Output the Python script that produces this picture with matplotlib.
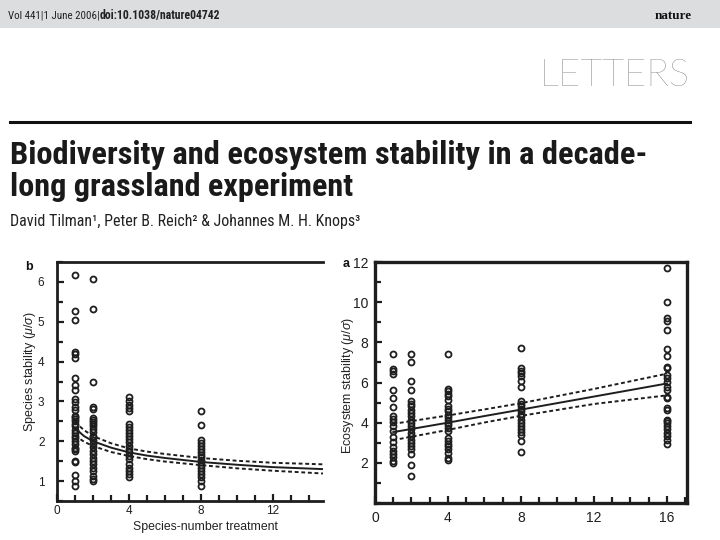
import matplotlib
matplotlib.use('Agg')
import matplotlib.pyplot as plt
from matplotlib import font_manager
from matplotlib.ticker import MultipleLocator
from matplotlib.patches import Rectangle
from matplotlib.lines import Line2D

# ---------------- data ----------------
# panel b: species stability vs species-number treatment
b_treatments = [1, 2, 4, 8]
b_vals_1 = [6.17, 5.27, 5.04, 4.25, 4.18, 4.10, 3.58, 3.41, 3.29, 3.05, 2.98, 2.85,
            2.79, 2.64, 2.60, 2.56, 2.52, 2.43, 2.39, 2.27, 2.20, 2.13, 2.08, 2.01,
            1.94, 1.84, 1.80, 1.76, 1.51, 1.47, 1.16, 1.00, 0.88]
b_vals_2 = [6.07, 5.31, 3.48, 2.85, 2.81, 2.59, 2.54, 2.48, 2.44, 2.39, 2.31, 2.23,
            2.14, 2.10, 2.02, 1.93, 1.85, 1.76, 1.68, 1.59, 1.51, 1.43, 1.34, 1.26,
            1.13, 1.05, 1.01]
b_vals_4 = [3.10, 3.02, 2.92, 2.83, 2.77, 2.44, 2.35, 2.27, 2.20, 2.14, 2.06, 1.98,
            1.89, 1.81, 1.72, 1.64, 1.56, 1.43, 1.34, 1.26, 1.18, 1.11]
b_vals_8 = [2.77, 2.42, 2.03, 1.95, 1.87, 1.81, 1.72, 1.66, 1.60, 1.53, 1.47, 1.41,
            1.34, 1.26, 1.18, 1.09, 1.01, 0.88]
b_fit_x = [1, 1.5, 2, 3, 4, 5, 6, 8, 10, 12, 14.8]
b_fit_mid = [2.33, 2.13, 2.00, 1.84, 1.72, 1.64, 1.58, 1.48, 1.41, 1.35, 1.30]
b_fit_upper = [2.48, 2.28, 2.13, 1.95, 1.82, 1.74, 1.68, 1.58, 1.51, 1.46, 1.42]
b_fit_lower = [2.14, 1.99, 1.88, 1.73, 1.63, 1.55, 1.49, 1.40, 1.32, 1.26, 1.19]

# panel a: ecosystem stability vs species-number treatment
a_treatments = [1, 2, 4, 8, 16]
a_vals_1 = [7.43, 6.68, 6.57, 6.43, 5.63, 5.23, 4.77, 4.35, 4.18, 4.02, 3.85, 3.60,
            3.27, 3.02, 2.77, 2.60, 2.43, 2.27, 2.10, 2.00]
a_vals_2 = [7.41, 7.01, 6.09, 5.61, 5.06, 4.94, 4.81, 4.65, 4.48, 4.35, 4.15, 3.99,
            3.82, 3.66, 3.49, 3.33, 3.16, 3.00, 2.83, 2.67, 2.42, 1.87, 1.34]
a_vals_4 = [7.41, 5.67, 5.56, 5.44, 5.31, 5.15, 4.82, 4.68, 4.57, 4.40, 4.29, 4.15,
            3.99, 3.86, 3.74, 3.58, 3.25, 3.08, 2.95, 2.83, 2.67, 2.50, 2.25, 2.14]
a_vals_8 = [7.74, 6.71, 6.59, 6.46, 6.30, 6.05, 5.77, 5.06, 4.94, 4.81, 4.68, 4.57,
            4.45, 4.32, 4.15, 3.99, 3.82, 3.66, 3.53, 3.41, 3.08, 2.55]
a_vals_16 = [11.72, 9.99, 9.22, 9.07, 8.61, 7.66, 7.33, 6.79, 6.70, 6.37, 6.21, 6.04,
             5.79, 5.63, 5.30, 5.22, 4.72, 4.64, 4.15, 4.07, 3.99, 3.82, 3.66, 3.49,
             3.33, 3.16, 2.95]
a_fit_x = [1, 4, 6, 8, 12, 16]
a_fit_mid = [3.53, 4.00, 4.33, 4.65, 5.30, 5.95]
a_fit_upper = [3.94, 4.36, 4.66, 4.97, 5.68, 6.44]
a_fit_lower = [3.13, 3.64, 4.01, 4.34, 4.93, 5.36]

b_xticks = [0, 4, 8, 12]
b_yticks = [1, 2, 3, 4, 5, 6]
a_xticks = [0, 4, 8, 12, 16]
a_yticks = [2, 4, 6, 8, 10, 12]

# ---------------- fonts ----------------
names = {f.name for f in font_manager.fontManager.ttflist}
def pick(*cands):
    for c in cands:
        if c in names:
            return c
    return 'DejaVu Sans'

cond = pick('Liberation Sans Narrow', 'Roboto Condensed', 'Open Sans Condensed',
            'Noto Sans Condensed', 'Liberation Sans')
sans = pick('Liberation Sans', 'Arial', 'DejaVu Sans')
light = pick('Lato', 'Open Sans', 'Roboto', 'DejaVu Sans')
serif = pick('Liberation Serif', 'DejaVu Serif')

plt.rcParams['font.family'] = [sans, 'DejaVu Sans']
plt.rcParams['mathtext.fontset'] = 'custom'
plt.rcParams['mathtext.rm'] = sans
plt.rcParams['mathtext.it'] = sans + ':italic'

W, H = 720, 540
fig = plt.figure(figsize=(7.2, 5.4), dpi=100)
fig.patch.set_facecolor('white')
r = fig.canvas.get_renderer()

def ptext(x, y, s, target_w=None, **kw):
    t = fig.text(x / W, 1 - y / H, s, **kw)
    if target_w:
        w = t.get_window_extent(r).width
        t.set_fontsize(t.get_fontsize() * target_w / w)
    return t

# ---------------- page header ----------------
fig.patches.append(Rectangle((0, 1 - 28 / H), 1, 28 / H, transform=fig.transFigure,
                             facecolor='#dcdddf', edgecolor='none', zorder=0))
ptext(8, 19, 'Vol 441|1 June 2006|', target_w=92, family=[cond, 'DejaVu Sans'],
      fontsize=7, color='#222222', va='baseline', ha='left')
ptext(100, 19, 'doi:10.1038/nature04742', target_w=122, family=[cond, 'DejaVu Sans'],
      fontsize=7, fontweight='bold', color='#222222', va='baseline', ha='left')
ptext(655, 19, 'nature', target_w=37, family=[serif], fontsize=9, fontweight='bold',
      color='#111111', va='baseline', ha='left')
ptext(540, 86, 'LETTERS', target_w=150, family=[light], fontweight='light',
      fontsize=28, color='#6f6f6f', va='baseline', ha='left')
fig.lines.append(Line2D([10 / W, 690 / W], [1 - 122 / H, 1 - 122 / H],
                        transform=fig.transFigure, color='#111111', lw=2.2))

# title + authors
ptext(10, 164, 'Biodiversity and ecosystem stability in a decade-', target_w=636,
      family=[cond, 'DejaVu Sans'], fontsize=20, fontweight='bold', color='#1a1a1a',
      va='baseline', ha='left')
ptext(10, 196, 'long grassland experiment', target_w=342,
      family=[cond, 'DejaVu Sans'], fontsize=20, fontweight='bold', color='#1a1a1a',
      va='baseline', ha='left')
ptext(10, 226, 'David Tilman\u00b9, Peter B. Reich\u00b2 & Johannes M. H. Knops\u00b3',
      target_w=352, family=[cond, 'DejaVu Sans'], fontsize=9, color='#222222',
      va='baseline', ha='left')

mk = dict(marker='o', linestyle='none', mfc='none', mec='#1e1e1e', ms=4.3, mew=1.3)
dash = (0, (2.0, 1.4))

def style_axes(ax, fs, ypad, xpad, lw):
    ax.tick_params(which='both', direction='in', colors='#1e1e1e', width=1.6)
    ax.tick_params(which='major', length=5)
    ax.tick_params(which='minor', length=4.5)
    ax.tick_params(axis='y', which='both', right=False, pad=ypad, labelsize=fs)
    ax.tick_params(axis='x', which='both', top=False, pad=xpad, labelsize=fs)
    for s in ax.spines.values():
        s.set_linewidth(lw)
        s.set_color('#1e1e1e')

# ---------------- panel b (left) ----------------
axb = fig.add_axes([57 / W, 1 - 501 / H, 266 / W, 239 / H])
for xv, vals in zip(b_treatments, [b_vals_1, b_vals_2, b_vals_4, b_vals_8]):
    axb.plot([xv] * len(vals), vals, **mk)
axb.plot(b_fit_x, b_fit_mid, color='#1e1e1e', lw=1.4)
axb.plot(b_fit_x, b_fit_upper, color='#1e1e1e', lw=1.4, linestyle=dash)
axb.plot(b_fit_x, b_fit_lower, color='#1e1e1e', lw=1.4, linestyle=dash)
axb.set_xlim(0, 14.78)
axb.set_ylim(0.5, 6.5)
axb.set_xticks(b_xticks)
axb.set_yticks(b_yticks)
axb.xaxis.set_minor_locator(MultipleLocator(1))
axb.yaxis.set_minor_locator(MultipleLocator(0.5))
style_axes(axb, 8.5, 9, 3, 2.0)
axb.spines['right'].set_visible(False)
ptext(30, 372, r'Species stability ($\mu/\sigma$)', fontsize=9, rotation=90,
      ha='center', va='center', color='#222222')
ptext(205, 527, 'Species-number treatment', target_w=144, fontsize=9,
      ha='center', va='center', color='#222222')
ptext(25, 270, 'b', fontsize=9, fontweight='bold', ha='left', va='baseline',
      color='#111111')

# ---------------- panel a (right) ----------------
axa = fig.add_axes([375 / W, 1 - 503 / H, 312 / W, 241 / H])
for xv, vals in zip(a_treatments, [a_vals_1, a_vals_2, a_vals_4, a_vals_8, a_vals_16]):
    axa.plot([xv] * len(vals), vals, **mk)
axa.plot(a_fit_x, a_fit_mid, color='#1e1e1e', lw=1.4)
axa.plot(a_fit_x, a_fit_upper, color='#1e1e1e', lw=1.4, linestyle=dash)
axa.plot(a_fit_x, a_fit_lower, color='#1e1e1e', lw=1.4, linestyle=dash)
axa.set_xlim(0, 17.1)
axa.set_ylim(0, 12)
axa.set_xticks(a_xticks)
axa.set_yticks(a_yticks)
axa.xaxis.set_minor_locator(MultipleLocator(1))
axa.yaxis.set_minor_locator(MultipleLocator(1))
style_axes(axa, 10, 5, 6, 2.4)
ptext(348, 385, r'Ecosystem stability ($\mu/\sigma$)', fontsize=9, rotation=90,
      ha='center', va='center', color='#222222')
ptext(343, 267, 'a', fontsize=9, fontweight='bold', ha='left', va='baseline',
      color='#111111')

fig.savefig('out.png', dpi=100, facecolor='white')
